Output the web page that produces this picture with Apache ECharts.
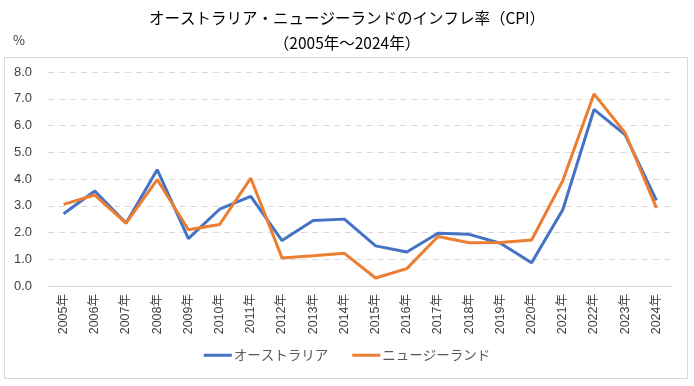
<!DOCTYPE html>
<html><head><meta charset="utf-8">
<script src="https://cdn.jsdelivr.net/npm/echarts@6/dist/echarts.min.js"></script>
<style>html,body{margin:0;padding:0;background:#fff}#c{width:694px;height:386px}</style>
</head><body><div id="c"></div>
<script>
const years = ["2005年","2006年","2007年","2008年","2009年","2010年","2011年","2012年","2013年","2014年","2015年","2016年","2017年","2018年","2019年","2020年","2021年","2022年","2023年","2024年"];
const australia = [2.7,3.55,2.35,4.35,1.77,2.87,3.35,1.7,2.45,2.5,1.5,1.27,1.97,1.93,1.6,0.87,2.85,6.6,5.65,3.2];
const newZealand = [3.05,3.4,2.35,3.98,2.1,2.3,4.03,1.05,1.13,1.22,0.3,0.65,1.85,1.62,1.63,1.72,3.94,7.18,5.72,2.92];
const yTicks = {min:0, max:8, interval:1};
const titleText = "オーストラリア・ニュージーランドのインフレ率（CPI）\n（2005年～2024年）";
const unitText = "%";
const seriesNames = ["オーストラリア","ニュージーランド"];

const FONT = '"Noto Sans CJK JP", "Noto Sans", sans-serif';
const chart = echarts.init(document.getElementById('c'), null, {renderer:'canvas'});
chart.setOption({
  animation:false,
  backgroundColor:'#fff',
  textStyle:{fontFamily:FONT},
  title:{
    text:titleText, left:'center', top:1,
    textStyle:{fontSize:15.5, fontWeight:'normal', color:'#000', lineHeight:25, fontFamily:FONT, align:'center'}
  },
  graphic:[
    {type:'rect', shape:{x:4.5,y:57.5,width:683,height:321}, style:{fill:'none', stroke:'#d9d9d9', lineWidth:1}, silent:true},
    {type:'text', left:13, top:34, style:{text:unitText, fontSize:13, fill:'#404040', fontFamily:FONT}}
  ],
  grid:{left:48, right:22, top:72, bottom:100},
  legend:{
    bottom:19, left:'center', itemWidth:28, itemHeight:3, itemGap:24,
    icon:'rect',
    textStyle:{fontSize:13.5, color:'#595959', fontFamily:FONT, padding:[0,0,0,-3]},
    data:seriesNames
  },
  xAxis:{
    type:'category', data:years, boundaryGap:true,
    axisLine:{lineStyle:{color:'#d9d9d9'}}, axisTick:{show:false},
    axisLabel:{rotate:90, fontSize:12.5, color:'#404040', margin:8, interval:0, fontFamily:'"Liberation Sans", "Noto Sans CJK JP", sans-serif'}
  },
  yAxis:{
    type:'value', min:yTicks.min, max:yTicks.max, interval:yTicks.interval,
    axisLine:{show:false}, axisTick:{show:false},
    axisLabel:{fontSize:13, color:'#404040', margin:16, formatter:v=>v.toFixed(1), fontFamily:'"Liberation Sans", sans-serif'},
    splitLine:{lineStyle:{color:'#d9d9d9', type:[6,5], width:1}}
  },
  series:[
    {name:seriesNames[0], type:'line', data:australia, symbol:'none', lineStyle:{width:3, color:'#4472C4'}, itemStyle:{color:'#4472C4'}, z:2},
    {name:seriesNames[1], type:'line', data:newZealand, symbol:'none', lineStyle:{width:3, color:'#ED7D31'}, itemStyle:{color:'#ED7D31'}, z:3}
  ]
});
</script></body></html>
